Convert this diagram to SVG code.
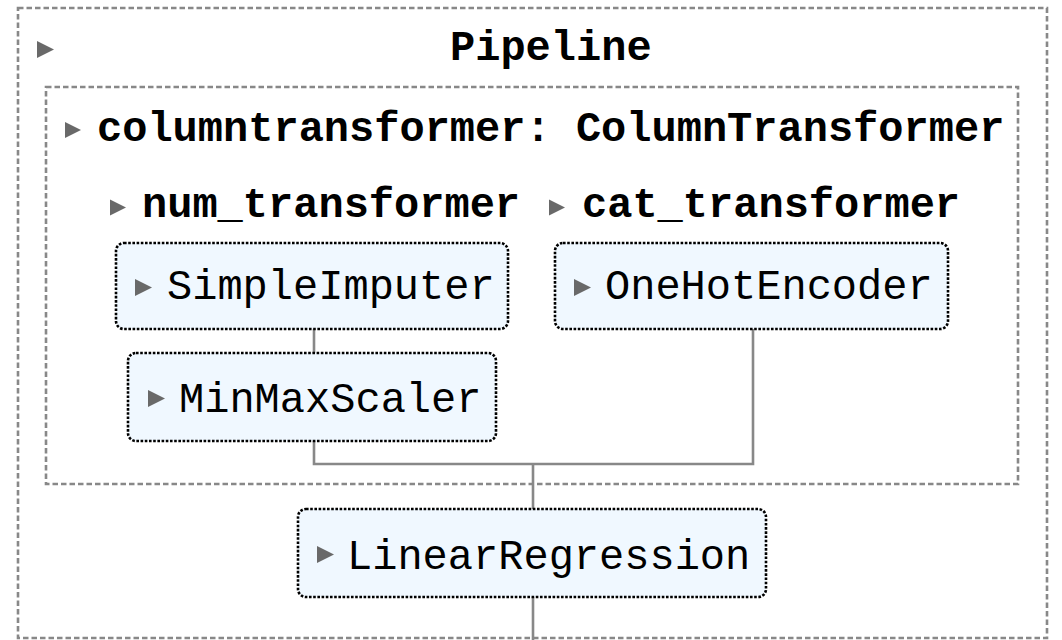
<svg xmlns="http://www.w3.org/2000/svg" width="1062" height="640" viewBox="0 0 1062 640">
  <style>
    .box { fill: none; stroke: #888888; stroke-width: 2.6; stroke-dasharray: 5.5 3; }
    .est { fill: #f0f8ff; stroke: #000000; stroke-width: 2.6; stroke-dasharray: 2.6 1.6; }
    .con { fill: none; stroke: #888888; stroke-width: 2.6; }
    .tri { fill: #696969; }
    .lbl { font-family: "Liberation Mono", "Courier New", monospace; font-size: 42px; fill: #000000; }
    .b { font-weight: bold; }
  </style>
  <rect width="1062" height="640" fill="#ffffff"/>
  <g id="connectors">
    <line class="con" x1="314" y1="329" x2="314" y2="353"/>
    <polyline class="con" points="314,441 314,464 753,464 753,329"/>
    <line class="con" x1="533" y1="464" x2="533" y2="509"/>
    <line class="con" x1="533" y1="597" x2="533" y2="640"/>
  </g>
  <g id="pipeline">
    <rect class="box" x="18" y="8" width="1029" height="630"/>
    <polygon class="tri" points="37,41 54,49.5 37,58"/>
    <text class="lbl b" x="450" y="60">Pipeline</text>
  </g>
  <g id="columntransformer">
    <rect class="box" x="46" y="87" width="972" height="397"/>
    <polygon class="tri" points="65,122 81,130 65,138"/>
    <text class="lbl b" x="97" y="141">columntransformer: ColumnTransformer</text>
  </g>
  <g id="num_transformer">
    <polygon class="tri" points="110,199.5 126,207.5 110,215.5"/>
    <text class="lbl b" x="142" y="217">num_transformer</text>
  </g>
  <g id="cat_transformer">
    <polygon class="tri" points="549,199.5 565,207.5 549,215.5"/>
    <text class="lbl b" x="582" y="217">cat_transformer</text>
  </g>
  <g id="simpleimputer">
    <rect class="est" x="116" y="243" width="392" height="86" rx="8"/>
    <polygon class="tri" points="135,279 152,287.5 135,296"/>
    <text class="lbl" x="167" y="299">SimpleImputer</text>
  </g>
  <g id="minmaxscaler">
    <rect class="est" x="128" y="353" width="368" height="88" rx="8"/>
    <polygon class="tri" points="148,390 165,398.5 148,407"/>
    <text class="lbl" x="179" y="412">MinMaxScaler</text>
  </g>
  <g id="onehotencoder">
    <rect class="est" x="555" y="243" width="393" height="86" rx="8"/>
    <polygon class="tri" points="574,279 591,287.5 574,296"/>
    <text class="lbl" x="605" y="299">OneHotEncoder</text>
  </g>
  <g id="linearregression">
    <rect class="est" x="298" y="509" width="468" height="88" rx="8"/>
    <polygon class="tri" points="317,546 334,554.5 317,563"/>
    <text class="lbl" x="347" y="569">LinearRegression</text>
  </g>
</svg>
